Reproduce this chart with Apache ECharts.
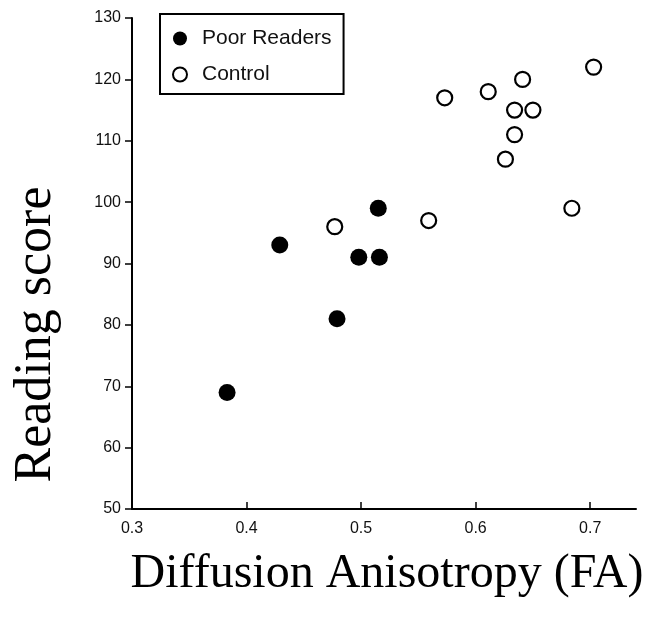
<!DOCTYPE html>
<html>
<head>
<meta charset="utf-8">
<script src="https://cdn.jsdelivr.net/npm/echarts@6/dist/echarts.min.js"></script>
<style>
  html, body { margin: 0; padding: 0; background: #fff; }
  #chart { width: 648px; height: 622px; }
</style>
</head>
<body>
<div id="chart"></div>
<script>
// 数据：FA 与阅读分数
var poorFA = [0.383, 0.429, 0.479, 0.498, 0.516, 0.515];
var poorScore = [69, 93, 81, 91, 91, 99];
var controlFA = [0.477, 0.559, 0.573, 0.611, 0.641, 0.634, 0.650, 0.634, 0.626, 0.684, 0.703];
var controlScore = [96, 97, 117, 118, 120, 115, 115, 111, 107, 99, 122];
var legendNames = ['Poor Readers', 'Control'];

function pairs(xs, ys) {
    var out = [];
    for (var i = 0; i < xs.length; i++) {
        out.push([xs[i], ys[i]]);
    }
    return out;
}

var chart = echarts.init(document.getElementById('chart'));
var tickFont = {color: '#111', fontSize: 16, fontFamily: 'Liberation Sans, Arial, sans-serif'};

var option = {
    animation: false,
    backgroundColor: '#fff',
    grid: {left: 132, right: 12, top: 18, bottom: 113, outerBoundsMode: 'none'},
    legend: {
        orient: 'vertical',
        left: 160,
        top: 14,
        padding: [14, 12, 9, 12],
        itemGap: 15,
        itemWidth: 34,
        itemHeight: 14,
        borderColor: '#000',
        borderWidth: 2,
        borderRadius: 0,
        data: legendNames,
        textStyle: {color: '#111', fontSize: 21, fontFamily: 'Liberation Sans, Arial, sans-serif'}
    },
    xAxis: {
        type: 'value',
        min: 0.3,
        max: 0.74,
        interval: 0.1,
        splitLine: {show: false},
        axisLine: {lineStyle: {color: '#000', width: 2}},
        axisTick: {inside: true, length: 7, lineStyle: {color: '#000', width: 1.5}},
        axisLabel: Object.assign({margin: 12, showMaxLabel: false, formatter: function (v) { return v.toFixed(1); }}, tickFont),
        name: 'Diffusion Anisotropy (FA)',
        nameLocation: 'middle',
        nameGap: 41,
        nameTextStyle: {
            color: '#000', fontSize: 48, fontFamily: 'Liberation Serif, Times New Roman, serif',
            padding: [0, 0, 0, 6]
        }
    },
    yAxis: {
        type: 'value',
        min: 50,
        max: 130,
        interval: 10,
        splitLine: {show: false},
        axisLine: {show: true, lineStyle: {color: '#000', width: 2}},
        axisTick: {show: true, length: 7, lineStyle: {color: '#000', width: 1.5}},
        axisLabel: Object.assign({margin: 11}, tickFont),
        name: 'Reading score',
        nameLocation: 'middle',
        nameRotate: 90,
        nameGap: 70,
        nameTextStyle: {
            color: '#000', fontSize: 52, fontFamily: 'Liberation Serif, Times New Roman, serif',
            padding: [0, 142, 0, 0]
        }
    },
    series: [
        {
            name: legendNames[0],
            type: 'scatter',
            symbol: 'circle',
            symbolSize: 17,
            itemStyle: {color: '#000', opacity: 1},
            data: pairs(poorFA, poorScore)
        },
        {
            name: legendNames[1],
            type: 'scatter',
            symbol: 'circle',
            symbolSize: 15,
            itemStyle: {color: '#fff', borderColor: '#000', borderWidth: 2.2, opacity: 1},
            data: pairs(controlFA, controlScore)
        }
    ]
};
chart.setOption(option);
</script>
</body>
</html>
